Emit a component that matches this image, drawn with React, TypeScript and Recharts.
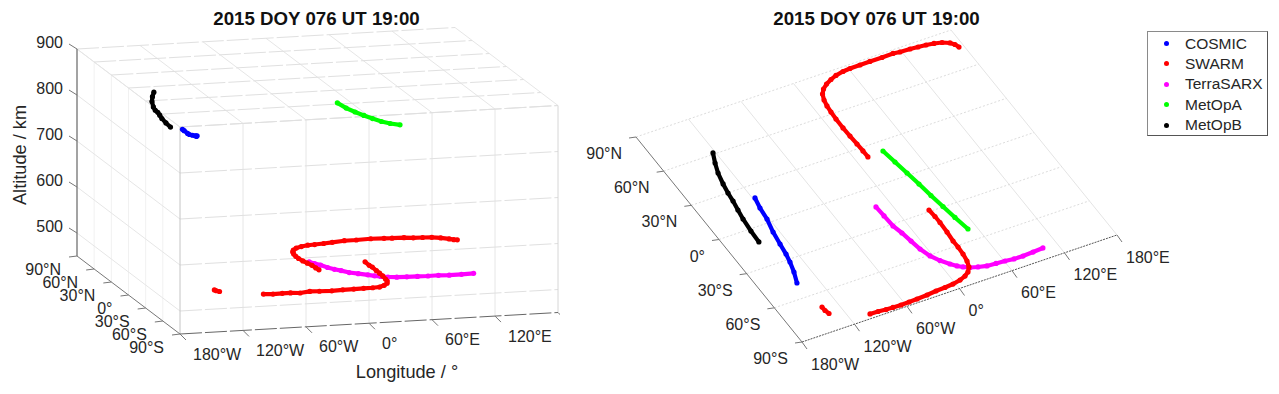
import { ScatterChart, Scatter, XAxis, YAxis, ReferenceLine } from "recharts";

// orbit tracks: longitude (deg), latitude (deg), altitude (km)
const cosmicLon = [-117.6, -120.4, -122.1, -126.1, -128.6, -130.5, -132.7, -136.4, -141.7];
const cosmicLat = [20.2, 12.1, 2.9, -7.5, -17.4, -25.7, -32.1, -39.9, -48.2];
const cosmicAlt = [783, 788, 791, 799, 807, 814, 819, 828, 836];

const metopaLon = [31.2, 34, 36.8, 39.5, 41.9, 44.7, 47.5, 50.8];
const metopaLat = [22.6, 12.2, 1.8, -8.6, -19.3, -29.7, -40, -51];
const metopaAlt = [819, 817, 818, 820, 823, 826, 831, 838];

const metopbLon = [-122.6, -128, -132.6, -136, -138.2, -139.5, -141.6, -143.6, -145.2, -146];
const metopbLat = [61, 53.6, 46, 37.3, 29.9, 23.2, 15.9, 8.5, -1.6, -11];
const metopbAlt = [826, 824, 821, 818, 818, 820, 821, 821, 821, 821];

const terraLon = [-15.7, -15, -14.2, -11.3, -9, -6.7, -2.8, 2.8, 9.3, 14.1, 18.8, 24.7, 32.2, 41, 50.9, 60.7, 70.3, 80.5, 92.4, 104.2];
const terraLat = [-14.3, -22.4, -31.4, -38.3, -46, -53.6, -60.7, -66.2, -70.9, -73.9, -76, -78, -79.5, -80.9, -81.3, -81.7, -82.4, -82.5, -82.1, -81.6];
const terraAlt = [514, 518, 523, 524, 527, 531, 533, 535, 536, 536, 536, 536, 536, 537, 537, 537, 538, 537, 537, 537];

const swarmNorthLon = [174.8, 173, 169.7, 162.9, 155, 146.7, 138.1, 129.5, 118.3, 111, 98.2, 84.5, 73, 61.5, 53.1, 43.9, 36.5, 29.2, 22.9, 18.4, 15.4, 13.7, 12.9, 12.3, 12.1, 12.5, 13, 13.3, 13.4];
const swarmNorthLat = [76.4, 79.1, 81.3, 83.5, 84.7, 85.5, 86, 86.5, 86.8, 87.4, 87.2, 87.3, 87.2, 87.1, 86.7, 85.6, 84, 81.9, 79.2, 76, 71.5, 66.7, 61.6, 55.6, 47.8, 40.6, 33.5, 27.3, 22];
const swarmNorthAlt = [452, 450, 450, 451, 452, 452, 452, 453, 453, 453, 454, 453, 453, 451, 450, 450, 451, 451, 451, 450, 451, 451, 451, 452, 454, 456, 458, 458, 459];

const swarmSouthLon = [29.6, 30.3, 30.4, 29.8, 28.7, 28.8, 28.2, 26.7, 24.1, 19.6, 14, 6.6, -2.6, -12.3, -22.9, -33.8, -45.7, -55, -64.4, -73.4, -81.1, -89.7, -98.7];
const swarmSouthLat = [-28.8, -34.7, -40, -48.2, -55.8, -61.1, -67.1, -72.8, -77.4, -80.6, -82.7, -84.3, -85.4, -85.9, -86.2, -86.9, -87.3, -87.5, -87.7, -87.5, -87.3, -86.8, -86.6];
const swarmSouthAlt = [522, 520, 521, 521, 523, 522, 521, 522, 522, 521, 520, 521, 522, 522, 522, 522, 523, 524, 522, 523, 523, 522, 523];

const swarmBitLon = [-136.7, -136.5, -135.1];
const swarmBitLat = [-70.6, -73.7, -76.7];
const swarmBitAlt = [522, 523, 524];

const lonTicks = [-180, -120, -60, 0, 60, 120, 180];
const lonLabels = ["180°W", "120°W", "60°W", "0°", "60°E", "120°E", "180°E"];
const latTicks = [90, 60, 30, 0, -30, -60, -90];
const latLabels = ["90°N", "60°N", "30°N", "0°", "30°S", "60°S", "90°S"];
const altTicks = [500, 600, 700, 800, 900];

const legendNames = ["COSMIC", "SWARM", "TerraSARX", "MetOpA", "MetOpB"];
const legendColors = ["#0000ff", "#ff0000", "#ff00ff", "#00ff00", "#000000"];

const TITLE = "2015 DOY 076 UT 19:00";
const FONT = "'Liberation Sans', Arial, sans-serif";
const INK = "#262626";
const ALT_MIN = 450;
const ALT_MAX = 900;
const RIGHT_X = 560;

type Pt = { x: number; y: number };
type View = (lon: number, lat: number, alt: number) => Pt;

const frac = (lon: number, lat: number, alt: number) => ({
  l: (lon + 180) / 360,
  a: (lat + 90) / 180,
  h: (alt - ALT_MIN) / (ALT_MAX - ALT_MIN),
});

// the two camera angles of the box, orthographic
const leftView: View = (lon, lat, alt) => {
  const { l, a, h } = frac(lon, lat, alt);
  return { x: 180 + 378 * l - 103 * a, y: 334 - 21.5 * l - 78 * a - 207 * h };
};

const rightView: View = (lon, lat) => {
  const { l, a } = frac(lon, lat, ALT_MIN);
  return { x: 802 + 315 * l - 166 * a, y: 342 - 107 * l - 205 * a };
};

function track(view: View, lon: number[], lat: number[], alt: number[]) {
  return lon.map((v, i) => view(v, lat[i], alt[i]));
}

function Dot(color: string, r: number) {
  return (p: any) => <circle cx={p.cx} cy={p.cy} r={r} fill={color} />;
}

function Segment({ from, to, stroke, dash, width = 1 }: { from: Pt; to: Pt; stroke: string; dash?: string; width?: number }) {
  return (
    <ReferenceLine
      segment={[from, to]}
      stroke={stroke}
      strokeWidth={width}
      strokeDasharray={dash}
      ifOverflow="visible"
    />
  );
}

function TrackSeries({ view }: { view: View }) {
  const series = [
    { color: "#ff00ff", pts: track(view, terraLon, terraLat, terraAlt) },
    { color: "#0000ff", pts: track(view, cosmicLon, cosmicLat, cosmicAlt) },
    { color: "#ff0000", pts: track(view, swarmNorthLon, swarmNorthLat, swarmNorthAlt) },
    { color: "#ff0000", pts: track(view, swarmSouthLon, swarmSouthLat, swarmSouthAlt) },
    { color: "#ff0000", pts: track(view, swarmBitLon, swarmBitLat, swarmBitAlt) },
    { color: "#00ff00", pts: track(view, metopaLon, metopaLat, metopaAlt) },
    { color: "#000000", pts: track(view, metopbLon, metopbLat, metopbAlt) },
  ];
  return (
    <>
      {series.map((s, i) => (
        <Scatter
          key={i}
          data={s.pts}
          line={{ stroke: s.color, strokeWidth: 4.2 }}
          shape={Dot(s.color, 2.6)}
          isAnimationActive={false}
        />
      ))}
    </>
  );
}

// tick mark plus its label, hung on a projected axis point
function tickShape(mark: Pt, labelAt: Pt, anchor: "start" | "end", stroke: string) {
  return (p: any) => (
    <g>
      <line x1={p.cx} y1={p.cy} x2={p.cx + mark.x} y2={p.cy + mark.y} stroke={stroke} strokeWidth={1} />
      <text
        x={p.cx + labelAt.x}
        y={p.cy + labelAt.y}
        textAnchor={anchor}
        dominantBaseline="central"
        fontFamily={FONT}
        fontSize={16}
        fill={INK}
      >
        {p.payload.label}
      </text>
    </g>
  );
}

function Ticks({ data, mark, labelAt, anchor, stroke = "#777" }: { data: any[]; mark: Pt; labelAt: Pt; anchor: "start" | "end"; stroke?: string }) {
  return <Scatter data={data} shape={tickShape(mark, labelAt, anchor, stroke)} isAnimationActive={false} />;
}

function Axes({ x0, x1 }: { x0: number; x1: number }) {
  return (
    <>
      <XAxis type="number" dataKey="x" domain={[x0, x1]} hide allowDataOverflow />
      <YAxis type="number" dataKey="y" domain={[0, 394]} reversed hide allowDataOverflow />
    </>
  );
}

function LeftPanel() {
  const v = leftView;
  const gridLine = "#e6e6e6";
  const wall = "#f1f1f1";
  const dash = "22 3";
  return (
    <ScatterChart width={RIGHT_X} height={394} margin={{ top: 0, right: 0, bottom: 0, left: 0 }}>
      <Axes x0={0} x1={RIGHT_X} />
      {/* left wall */}
      {latTicks.slice(1, -1).map((lat) => (
        <Segment key={"wl" + lat} from={v(-180, lat, ALT_MIN)} to={v(-180, lat, ALT_MAX)} stroke={wall} />
      ))}
      {altTicks.map((alt) => (
        <Segment key={"wa" + alt} from={v(-180, 90, alt)} to={v(-180, -90, alt)} stroke={gridLine} />
      ))}
      {/* front wall */}
      {lonTicks.slice(1, -1).map((lon) => (
        <Segment key={"fl" + lon} from={v(lon, -90, ALT_MIN)} to={v(lon, -90, ALT_MAX)} stroke={gridLine} />
      ))}
      {altTicks.map((alt) => (
        <Segment key={"fa" + alt} from={v(-180, -90, alt)} to={v(180, -90, alt)} stroke="#e0e0e0" dash={dash} />
      ))}
      {/* top */}
      {lonTicks.map((lon) => (
        <Segment key={"tl" + lon} from={v(lon, -90, ALT_MAX)} to={v(lon, 90, ALT_MAX)} stroke={gridLine} />
      ))}
      {latTicks.map((lat) => (
        <Segment key={"ta" + lat} from={v(-180, lat, ALT_MAX)} to={v(180, lat, ALT_MAX)} stroke="#e0e0e0" dash={dash} />
      ))}
      {/* box edges */}
      <Segment from={v(-180, -90, ALT_MIN)} to={v(-180, -90, ALT_MAX)} stroke="#c4c4c4" />
      <Segment from={v(180, -90, ALT_MIN)} to={v(180, -90, ALT_MAX)} stroke="#d6d6d6" />
      <Segment from={v(-180, 90, ALT_MIN)} to={v(-180, 90, ALT_MAX)} stroke="#666" width={1.2} />
      <Segment from={v(-180, 90, ALT_MIN)} to={v(-180, -90, ALT_MIN)} stroke="#777" />
      <Segment from={v(-180, -90, ALT_MIN)} to={v(180, -90, ALT_MIN)} stroke="#666" dash="22 3" />

      <TrackSeries view={v} />

      <Ticks
        data={lonTicks.map((lon, i) => ({ ...v(lon, -90, ALT_MIN), label: i < 6 ? lonLabels[i] : "" }))}
        mark={{ x: 6, y: 6 }}
        labelAt={{ x: 13, y: 20 }}
        anchor="start"
      />
      <Ticks
        data={latTicks.map((lat, i) => ({ ...v(-180, lat, ALT_MIN), label: latLabels[i] }))}
        mark={{ x: -8, y: 1 }}
        labelAt={{ x: -16, y: 13 }}
        anchor="end"
      />
      <Ticks
        data={altTicks.map((alt) => ({ ...v(-180, 90, alt), label: String(alt) }))}
        mark={{ x: -8, y: -5 }}
        labelAt={{ x: -14, y: -7 }}
        anchor="end"
      />

      <text x={316.5} y={25} textAnchor="middle" fontFamily={FONT} fontSize={18.7} fontWeight="bold" fill="#111">
        {TITLE}
      </text>
      <text x={407} y={378} textAnchor="middle" fontFamily={FONT} fontSize={18.2} fill={INK}>
        Longitude / °
      </text>
      <text
        transform="translate(26 155) rotate(-90)"
        textAnchor="middle"
        fontFamily={FONT}
        fontSize={18.2}
        fill={INK}
      >
        Altitude / km
      </text>
    </ScatterChart>
  );
}

function RightPanel() {
  const v = rightView;
  const z = ALT_MIN;
  return (
    <ScatterChart width={1279 - RIGHT_X} height={394} margin={{ top: 0, right: 0, bottom: 0, left: 0 }}>
      <Axes x0={RIGHT_X} x1={1279} />
      {lonTicks.slice(1).map((lon) => (
        <Segment key={"l" + lon} from={v(lon, -90, z)} to={v(lon, 90, z)} stroke="#e4e4e4" />
      ))}
      {latTicks.slice(0, -1).map((lat) => (
        <Segment key={"a" + lat} from={v(-180, lat, z)} to={v(180, lat, z)} stroke="#dcdcdc" dash="2 2" />
      ))}
      <Segment from={v(-180, 90, z)} to={v(-180, -90, z)} stroke="#777" />
      <Segment from={v(-180, -90, z)} to={v(180, -90, z)} stroke="#555" dash="2 1" />

      <TrackSeries view={v} />

      <Ticks
        data={lonTicks.map((lon, i) => ({ ...v(lon, -90, z), label: lonLabels[i] }))}
        mark={{ x: 5, y: 7 }}
        labelAt={{ x: 9, y: 22 }}
        anchor="start"
      />
      <Ticks
        data={latTicks.map((lat, i) => ({ ...v(-180, lat, z), label: latLabels[i] }))}
        mark={{ x: -7, y: 1 }}
        labelAt={{ x: -14, y: 16.5 }}
        anchor="end"
      />

      <text x={876.5 - RIGHT_X} y={25} textAnchor="middle" fontFamily={FONT} fontSize={18.7} fontWeight="bold" fill="#111">
        {TITLE}
      </text>
    </ScatterChart>
  );
}

function LegendBox() {
  return (
    <div
      style={{
        position: "absolute",
        left: 1147,
        top: 31,
        width: 119,
        height: 103,
        background: "#fff",
        border: "1px solid #8a8a8a",
        borderRightColor: "#555",
        borderBottomColor: "#555",
        fontFamily: FONT,
        fontSize: 15.5,
        color: INK,
      }}
    >
      {legendNames.map((name, i) => (
        <div key={name} style={{ position: "absolute", left: 0, top: 1.5 + i * 20.4, height: 20, lineHeight: "20px", whiteSpace: "nowrap" }}>
          <span
            style={{
              position: "absolute",
              left: 16,
              top: 7.5,
              width: 5,
              height: 5,
              borderRadius: "50%",
              background: legendColors[i],
            }}
          />
          <span style={{ position: "absolute", left: 37 }}>{name}</span>
        </div>
      ))}
    </div>
  );
}

export default function App() {
  return (
    <div style={{ position: "absolute", left: 0, top: 0, width: 1279, height: 394, background: "#fff", overflow: "hidden" }}>
      <div style={{ position: "absolute", left: 0, top: 0 }}>
        <LeftPanel />
      </div>
      <div style={{ position: "absolute", left: RIGHT_X, top: 0 }}>
        <RightPanel />
      </div>
      <LegendBox />
    </div>
  );
}
